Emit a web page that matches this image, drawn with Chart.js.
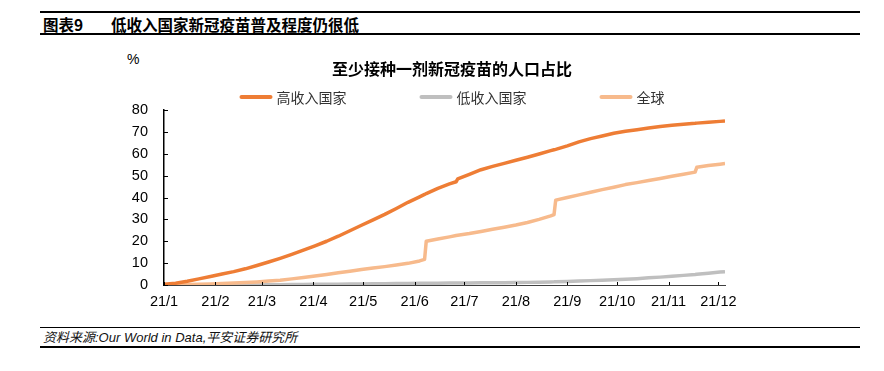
<!DOCTYPE html>
<html><head><meta charset="utf-8">
<script src="https://cdn.jsdelivr.net/npm/chart.js@4.4.0/dist/chart.umd.min.js"></script>
<style>
html,body{margin:0;padding:0;background:#fff;}
body{width:884px;height:371px;position:relative;overflow:hidden;font-family:"Liberation Sans","Noto Sans CJK SC",sans-serif;color:#000;}
.hl{position:absolute;left:40px;width:820px;background:#000;}
#l1{top:11px;height:2px;}
#l2{top:33px;height:2px;}
#l3{top:327px;height:1px;}
#l4{top:346px;height:2px;}
#h1{position:absolute;left:43px;top:14px;font:bold 15.5px "Noto Sans CJK SC","Liberation Sans",sans-serif;line-height:20px;}
#h2{position:absolute;left:111px;top:14px;font:bold 15.5px "Noto Sans CJK SC",sans-serif;line-height:20px;}
#pct{position:absolute;left:127px;top:51px;font:14px "Liberation Sans",sans-serif;}
#src{position:absolute;left:43px;top:329px;font:italic 13px "Liberation Sans","Noto Sans CJK SC",sans-serif;line-height:17px;color:#111;}
#wrap{position:absolute;left:100px;top:40px;width:704px;height:280px;}
</style></head>
<body>
<div class="hl" id="l1"></div><div class="hl" id="l2"></div>
<div id="h1">图表9</div><div id="h2">低收入国家新冠疫苗普及程度仍很低</div>
<div id="pct">%</div>
<div id="wrap"><canvas id="c" width="704" height="280"></canvas></div>
<div class="hl" id="l3"></div><div class="hl" id="l4"></div>
<div id="src">资料来源:Our World in Data,平安证券研究所</div>
<script>
// day offsets from 2021-01-01
const days=[0,7,14,21,28,35,42,49,56,63,70,77,84,91,98,105,112,119,126,133,140,147,154,157,158,165,172,176,177,184,191,198,205,212,219,226,233,235,236,243,250,257,264,271,278,285,292,299,306,313,320,321,328,335,338];
const highIncome=[0.3,0.8,1.7,2.8,3.9,5.0,6.1,7.4,8.9,10.5,12.2,14.0,15.9,17.9,20.0,22.3,24.8,27.3,29.8,32.3,35.0,37.8,40.3,41.4,41.8,44.2,46.2,47.2,48.5,50.6,52.7,54.2,55.6,57.0,58.4,59.9,61.4,61.8,62.0,63.6,65.4,66.9,68.1,69.4,70.3,71.0,71.8,72.5,73.0,73.5,73.9,74.0,74.4,74.8,75.0];
const lowIncome=[0,0,0,0,0,0,0,0,0.05,0.1,0.15,0.2,0.25,0.3,0.35,0.4,0.45,0.5,0.55,0.6,0.65,0.7,0.75,0.8,0.8,0.85,0.9,0.9,0.9,0.95,1.0,1.0,1.05,1.1,1.2,1.3,1.4,1.45,1.5,1.6,1.8,2.0,2.2,2.4,2.6,2.9,3.3,3.6,4.0,4.4,4.8,4.9,5.4,5.9,6.1];
const world=[0,0.1,0.2,0.3,0.5,0.7,0.9,1.1,1.4,1.8,2.2,2.8,3.4,4.1,4.8,5.6,6.3,7.1,7.8,8.4,9.1,9.9,11.0,11.7,20.0,21.0,22.0,22.6,22.7,23.5,24.5,25.5,26.4,27.4,28.6,30.0,31.6,32.2,38.8,40.0,41.2,42.4,43.6,44.7,45.9,46.8,47.8,48.7,49.7,50.6,51.6,53.8,54.6,55.2,55.5];
const monthStarts=[0,31,59,90,120,151,181,212,243,273,304,334];
const monthLabels=['21/1','21/2','21/3','21/4','21/5','21/6','21/7','21/8','21/9','21/10','21/11','21/12'];
const seriesNames=['高收入国家','低收入国家','全球'];
const seriesColors=['#EE7D35','#BFBFBF','#F7BA8C'];
const chartTitle='至少接种一剂新冠疫苗的人口占比';

const pts=arr=>days.map((d,i)=>({x:d,y:arr[i]}));
const seriesData=[highIncome,lowIncome,world];

const tickMarks={id:'tickMarks',afterDatasetsDraw(c){
  const {ctx,chartArea:a,scales:{x,y}}=c;
  ctx.save();ctx.strokeStyle='#000';ctx.lineWidth=1;ctx.beginPath();
  monthStarts.forEach(d=>{const px=Math.round(x.getPixelForValue(d))+0.5;ctx.moveTo(px,a.bottom);ctx.lineTo(px,a.bottom-3);});
  y.ticks.forEach(t=>{const py=Math.round(y.getPixelForValue(t.value))+0.5;ctx.moveTo(a.left,py);ctx.lineTo(a.left+4,py);});
  ctx.stroke();ctx.restore();
}};
const lineLegend={id:'lineLegend',afterDraw(c){
  const ctx=c.ctx;ctx.save();
  ctx.font='14px "Noto Sans CJK SC",sans-serif';
  const lineLen=33,gap=4,sep=73;
  const widths=seriesNames.map(n=>lineLen+gap+ctx.measureText(n).width);
  const total=widths.reduce((s,w)=>s+w,0)+sep*(widths.length-1);
  let x=c.width/2-total/2;const y=c.chartArea.top-13;
  ctx.textBaseline='middle';ctx.textAlign='left';
  seriesNames.forEach((n,i)=>{
    ctx.strokeStyle=seriesColors[i];ctx.lineWidth=4;ctx.lineCap='round';
    ctx.beginPath();ctx.moveTo(x+2,y);ctx.lineTo(x+lineLen-2,y);ctx.stroke();
    ctx.fillStyle='#333';ctx.fillText(n,x+lineLen+gap,y+1);
    x+=widths[i]+sep;
  });
  ctx.restore();
}};

new Chart(document.getElementById('c'),{
  type:'line',
  data:{datasets:seriesNames.map((n,i)=>({label:n,data:pts(seriesData[i]),borderColor:seriesColors[i],backgroundColor:seriesColors[i],borderWidth:3.5,pointRadius:0,tension:0,borderJoinStyle:'round',order:[0,2,1][i]}))},
  options:{
    responsive:false,animation:false,
    layout:{padding:0},
    plugins:{
      legend:{display:false},tooltip:{enabled:false},
      title:{display:true,text:chartTitle,color:'#000',font:{family:'"Noto Sans CJK SC",sans-serif',size:16,weight:'bold'},padding:{top:19,bottom:31.8}}
    },
    scales:{
      x:{type:'linear',min:0,max:338,
        afterBuildTicks(s){s.ticks=monthStarts.map(v=>({value:v}));},
        afterFit(s){s.height=35;},
        ticks:{autoSkip:false,maxRotation:0,padding:8,color:'#000',font:{family:'"Liberation Sans",sans-serif',size:14.5},callback:v=>monthLabels[monthStarts.indexOf(v)]},
        grid:{display:true,color:'rgba(0,0,0,0)',drawOnChartArea:false,drawTicks:false},
        border:{display:true,color:'#404040',width:1}},
      y:{min:0,max:80,
        afterFit(s){s.width=64;},
        ticks:{stepSize:10,padding:16,color:'#000',font:{family:'"Liberation Sans",sans-serif',size:14.5}},
        grid:{display:true,color:'rgba(0,0,0,0)',drawOnChartArea:false,drawTicks:false},
        border:{display:true,color:'#000',width:1.5}},
      yRight:{position:'right',min:0,max:80,
        afterFit(s){s.width=79;},
        ticks:{display:false},grid:{display:false,drawTicks:false},border:{display:false}}
    }
  },
  plugins:[tickMarks,lineLegend]
});
</script>
</body></html>
